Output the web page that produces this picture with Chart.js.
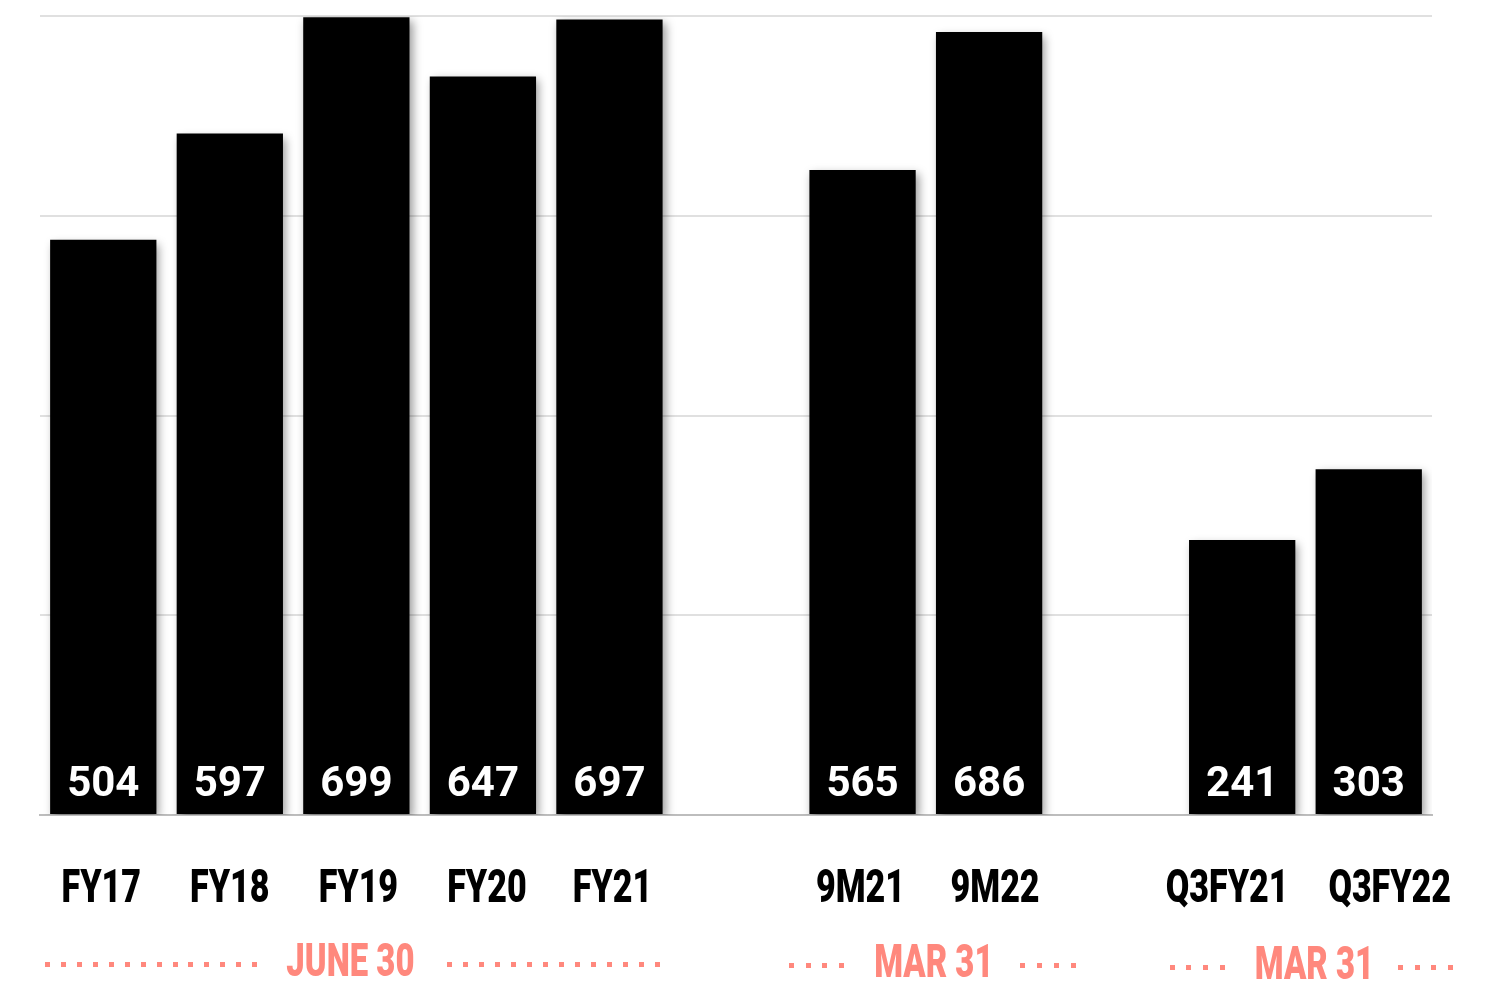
<!DOCTYPE html>
<html>
<head>
<meta charset="utf-8">
<script src="https://cdn.jsdelivr.net/npm/chart.js@4"></script>
<style>
  html, body { margin: 0; padding: 0; background: #ffffff; }
  #wrap { width: 1507px; height: 993px; position: relative; }
</style>
</head>
<body>
<div id="wrap"><canvas id="c" width="1507" height="993"></canvas></div>
<script>
// ---- data ----
const categories = ["FY17", "FY18", "FY19", "FY20", "FY21", "", "9M21", "9M22", "", "Q3FY21", "Q3FY22"];
const values     = [504, 597, 699, 647, 697, null, 565, 686, null, 241, 303];
const groupLabels = ["JUNE 30", "MAR 31", "MAR 31"];
const groupStart  = [0, 6, 9];
const groupEnd    = [4, 7, 10];
const groupDots   = [14, 4, 4];
const yMax = 700;
const yStep = 175;

// ---- styles ----
const PINK = "#FF887D";
const condFont = (size) => "900 " + size + "px Roboto";
const SQUEEZE = 0.74;
const GROUP_SQUEEZE = 0.715;
const groupOffset = [-6, 8, 9];
const groupDy = [0, 1, 3];
const gapLeft = [29, 30, 30];
const gapRight = [33, 27, 24];
const dotSpacing = [15.95, 16.7, 16.7];
const labelOffset = [-2, 0, 2, 4, 3, 0, -2, 6, 0, -15, 21];

const shadowPlugin = {
  id: "barShadow",
  beforeDatasetsDraw(chart) {
    const ctx = chart.ctx;
    ctx.save();
    ctx.shadowColor = "rgba(0,0,0,0.4)";
    ctx.shadowBlur = 9;
    ctx.shadowOffsetX = 3;
    ctx.shadowOffsetY = 4;
  },
  afterDatasetsDraw(chart) {
    chart.ctx.restore();
  }
};

function squeezedText(ctx, text, x, y, color, size, sq) {
  ctx.save();
  ctx.translate(x, y);
  ctx.scale(sq, 1);
  ctx.font = condFont(size);
  ctx.fillStyle = color;
  ctx.textAlign = "center";
  ctx.textBaseline = "alphabetic";
  ctx.fillText(text, 0, 0);
  const w = ctx.measureText(text).width * sq;
  ctx.restore();
  return w;
}

const labelsPlugin = {
  id: "labelsPlugin",
  afterDraw(chart) {
    const ctx = chart.ctx;
    const xs = chart.scales.x;
    const meta = chart.getDatasetMeta(0);
    const bottom = chart.scales.y.getPixelForValue(0);
    // value labels inside bars
    ctx.save();
    ctx.font = "bold 42px Roboto";
    ctx.fillStyle = "#ffffff";
    ctx.textAlign = "center";
    ctx.textBaseline = "alphabetic";
    values.forEach((v, i) => {
      if (v == null) return;
      const el = meta.data[i];
      ctx.fillText(String(v), el.x, bottom - 19);
    });
    ctx.restore();
    // category labels
    categories.forEach((c, i) => {
      if (!c) return;
      squeezedText(ctx, c, xs.getPixelForValue(i) + labelOffset[i], bottom + 87, "#000000", 46, SQUEEZE);
    });
    // group labels with dotted lines
    groupLabels.forEach((g, k) => {
      const cx = (xs.getPixelForValue(groupStart[k]) + xs.getPixelForValue(groupEnd[k])) / 2 + groupOffset[k];
      const baseY = bottom + 161 + groupDy[k];
      const w = squeezedText(ctx, g, cx, baseY, PINK, 46, GROUP_SQUEEZE);
      ctx.save();
      ctx.fillStyle = PINK;
      const dy = baseY - 12;
      const n = groupDots[k];
      const spacing = dotSpacing[k];
      for (let d = 0; d < n; d++) {
        const lx = cx - w / 2 - gapLeft[k] - d * spacing;
        const rx = cx + w / 2 + gapRight[k] + d * spacing;
        ctx.fillRect(Math.round(lx - 5), Math.round(dy - 2.5), 5, 5);
        ctx.fillRect(Math.round(rx), Math.round(dy - 2.5), 5, 5);
      }
      ctx.restore();
    });
  }
};

new Chart(document.getElementById("c"), {
  type: "bar",
  data: {
    labels: categories,
    datasets: [{
      data: values,
      backgroundColor: "#000000",
      borderWidth: 0,
      barPercentage: 0.84,
      categoryPercentage: 1.0
    }]
  },
  options: {
    responsive: false,
    animation: false,
    layout: { padding: { left: 40, right: 75, top: 16, bottom: 178 } },
    plugins: { legend: { display: false }, tooltip: { enabled: false } },
    scales: {
      x: {
        grid: { display: false, drawTicks: false },
        border: { display: true, color: "#bdbdbd", width: 2 },
        ticks: { display: false }
      },
      y: {
        min: 0,
        max: yMax,
        ticks: { display: false, stepSize: yStep },
        grid: { color: "#e0e0e0", lineWidth: 2, drawTicks: false, tickLength: 0 },
        border: { display: false }
      }
    }
  },
  plugins: [shadowPlugin, labelsPlugin]
});
</script>
</body>
</html>
